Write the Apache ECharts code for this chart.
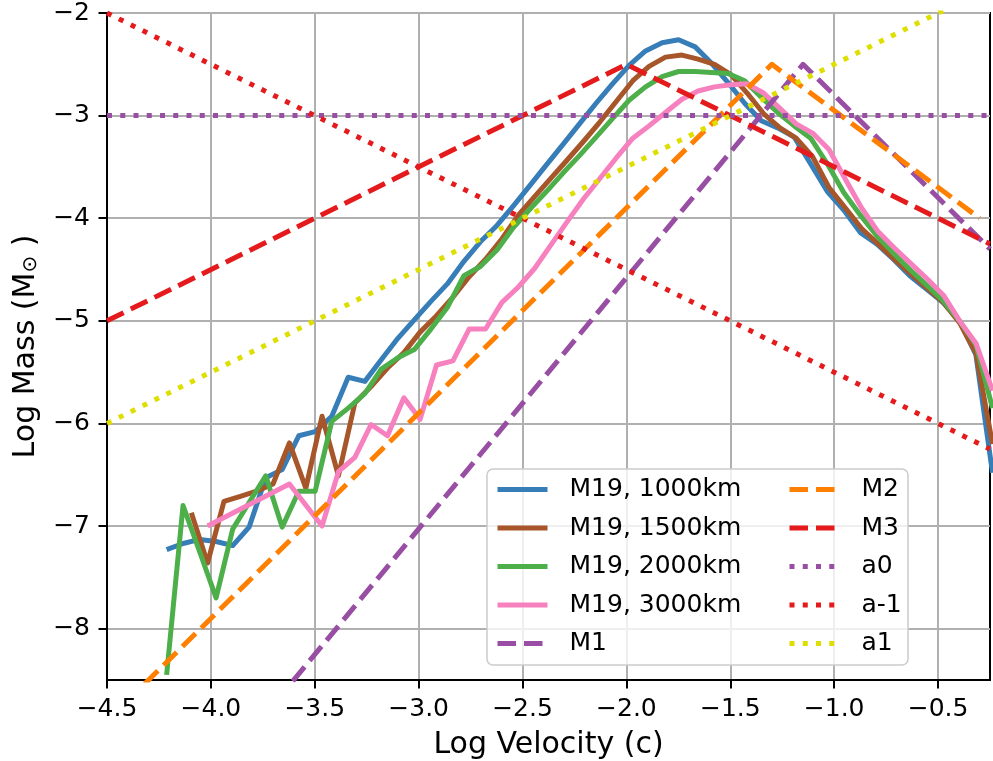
<!DOCTYPE html>
<html><head><meta charset="utf-8">
<script src="https://cdn.jsdelivr.net/npm/echarts@6/dist/echarts.min.js"></script>
<style>html,body{margin:0;padding:0;background:#fff}#c{width:993px;height:761px}</style>
</head><body><div id="c"></div>
<script>
// Log velocity grids of the M19 simulation curves
const xA = [-4.213,-4.134,-4.054,-3.975,-3.895,-3.816,-3.736,-3.657,-3.577,-3.498,-3.418,-3.339,-3.259,-3.180,-3.100,-3.021,-2.941,-2.862,-2.782,-2.703,-2.623,-2.544,-2.464,-2.385,-2.305,-2.226,-2.146,-2.067,-1.987,-1.908,-1.828,-1.749,-1.669,-1.590,-1.510,-1.431,-1.351,-1.272,-1.192,-1.113,-1.033,-0.954,-0.874,-0.795,-0.715,-0.636,-0.556,-0.477,-0.397,-0.318,-0.238];
const xB = [-4.173,-4.094,-4.016,-3.937,-3.858,-3.780,-3.701,-3.622,-3.543,-3.465,-3.386,-3.307,-3.229,-3.150,-3.071,-2.993,-2.914,-2.835,-2.757,-2.678,-2.599,-2.520,-2.442,-2.363,-2.284,-2.206,-2.127,-2.048,-1.969,-1.891,-1.812,-1.733,-1.655,-1.576,-1.497,-1.419,-1.340,-1.261,-1.183,-1.104,-1.025,-0.946,-0.868,-0.789,-0.710,-0.632,-0.553,-0.474,-0.396,-0.317,-0.238];

// Log mass values (on xA)
const m19_1000 = [-7.23,-7.17,-7.13,-7.15,-7.19,-7.01,-6.53,-6.45,-6.12,-6.08,-5.93,-5.55,-5.59,-5.38,-5.17,-4.99,-4.81,-4.64,-4.42,-4.23,-4.07,-3.88,-3.68,-3.48,-3.28,-3.08,-2.88,-2.69,-2.51,-2.37,-2.29,-2.26,-2.33,-2.49,-2.68,-2.88,-3.05,-3.12,-3.21,-3.47,-3.74,-3.92,-4.14,-4.25,-4.40,-4.56,-4.69,-4.82,-5.00,-5.33,-6.48];
const m19_2000 = [-8.45,-6.80,-7.25,-7.70,-7.03,-6.77,-6.51,-7.01,-6.66,-6.66,-5.98,-5.85,-5.71,-5.47,-5.36,-5.28,-5.08,-4.87,-4.56,-4.47,-4.31,-4.09,-3.91,-3.74,-3.56,-3.39,-3.21,-3.03,-2.85,-2.72,-2.62,-2.57,-2.57,-2.58,-2.59,-2.66,-2.82,-2.97,-3.10,-3.22,-3.47,-3.75,-3.97,-4.17,-4.34,-4.50,-4.65,-4.80,-5.00,-5.23,-5.85];
// Log mass values (on xB)
const m19_1500 = [null,-6.87,-7.36,-6.76,-6.71,-6.66,-6.59,-6.19,-6.63,-5.93,-6.51,-5.80,-5.64,-5.46,-5.31,-5.11,-4.95,-4.77,-4.57,-4.40,-4.20,-3.97,-3.79,-3.61,-3.43,-3.25,-3.06,-2.86,-2.66,-2.52,-2.43,-2.41,-2.45,-2.50,-2.60,-2.78,-2.98,-3.12,-3.22,-3.40,-3.70,-3.90,-4.10,-4.25,-4.40,-4.54,-4.68,-4.82,-5.02,-5.32,-6.20];
const m19_3000 = [null,null,-7.00,null,null,null,null,-6.59,null,-7.00,-6.47,-6.33,-6.01,-6.12,-5.75,-5.96,-5.43,-5.39,-5.08,-5.08,-4.82,-4.67,-4.49,-4.26,-4.03,-3.81,-3.61,-3.41,-3.22,-3.10,-2.97,-2.84,-2.76,-2.72,-2.70,-2.69,-2.78,-2.93,-3.08,-3.17,-3.33,-3.62,-3.90,-4.13,-4.29,-4.44,-4.59,-4.75,-5.00,-5.22,-5.68];

// Model lines
const m1X = [-4.5,-1.15,-0.25],  m1Y = [-10.7,-2.5,-4.3];
const m2X = [-4.5,-1.3,-0.3],    m2Y = [-8.9,-2.5,-4.0];
const m3X = [-4.5,-2.0,-0.25],   m3Y = [-5.0,-2.5,-4.25];
const a0X = [-4.5,-0.25],        a0Y = [-3.0,-3.0];
const am1X = [-4.5,-0.25],       am1Y = [-2.0,-6.25];
const a1X = [-4.5,-0.25],        a1Y = [-6.0,-1.75];

const xTicks = [-4.5,-4.0,-3.5,-3.0,-2.5,-2.0,-1.5,-1.0,-0.5];
const yTicks = [-8,-7,-6,-5,-4,-3,-2];

function pairs(xs, ys){ const out=[]; for(let i=0;i<xs.length;i++){ if(ys[i]!==null && ys[i]!==undefined) out.push([xs[i], ys[i]]); } return out; }
const FONT = 'DejaVu Sans';
const LW = 5;
const DASH = [18.5, 8];
const DOT = [5, 8.25];
function ser(name, data, color, type, z){
  return { name, type:'line', data, symbol:'none', showSymbol:false, clip:true, z,
    lineStyle:{ color, width:LW, type, cap:'butt', join:'round' }, itemStyle:{ color },
    emphasis:{ disabled:true }, animation:false };
}
const legendText = { fontFamily:FONT, fontSize:25, color:'#000', padding:[0,0,0,17] };
const legendCommon = { orient:'vertical', top:477, itemWidth:50, itemHeight:14, itemGap:13.5, padding:0,
  selectedMode:false, textStyle:legendText, itemStyle:{ opacity:0 }, lineStyle:{ width:LW } };

const chart = echarts.init(document.getElementById('c'), null, {renderer:'canvas'});
chart.setOption({
  animation:false,
  backgroundColor:'#fff',
  grid:{ left:107, right:3, top:13, bottom:81, containLabel:false, outerBoundsMode:'none',
    show:true, borderColor:'#000', borderWidth:2, backgroundColor:'transparent' },
  xAxis:{ type:'value', min:-4.5, max:-0.25,
    axisLine:{ show:true, onZero:false, lineStyle:{ color:'#000', width:2 } },
    axisTick:{ show:true, length:8.5, customValues:xTicks, lineStyle:{ color:'#000', width:2 } },
    axisLabel:{ customValues:xTicks, margin:17, fontFamily:FONT, fontSize:25, color:'#000',
      formatter: v => v.toFixed(1).replace('-', '\u2212') },
    splitLine:{ show:true, lineStyle:{ color:'#b0b0b0', width:2 } },
    name:'Log Velocity (c)', nameLocation:'middle', nameGap:50,
    nameTextStyle:{ fontFamily:FONT, fontSize:30, color:'#000' } },
  yAxis:{ type:'value', min:-8.5, max:-2,
    axisLine:{ show:true, onZero:false, lineStyle:{ color:'#000', width:2 } },
    axisTick:{ show:true, length:8.5, customValues:yTicks, lineStyle:{ color:'#000', width:2 } },
    axisLabel:{ customValues:yTicks, margin:17, fontFamily:FONT, fontSize:25, color:'#000',
      formatter: v => String(Math.round(v)).replace('-', '\u2212') },
    splitLine:{ show:true, lineStyle:{ color:'#b0b0b0', width:2 } },
    name:'Log Mass (M{sub|\u2299} )', nameLocation:'middle', nameGap:66,
    nameTextStyle:{ fontFamily:FONT, fontSize:30, color:'#000',
      rich:{ sub:{ fontFamily:FONT, fontSize:20, color:'#000', verticalAlign:'bottom', padding:[10,0,0,0] } } } },
  legend:[
    Object.assign({ data:['M19, 1000km','M19, 1500km','M19, 2000km','M19, 3000km','M1'], left:495 }, legendCommon),
    Object.assign({ data:['M2','M3','a0','a-1','a1'], left:787 }, legendCommon)
  ],
  graphic:[{ type:'rect', z:3, silent:true,
    shape:{ x:487, y:469, width:421, height:196, r:6 },
    style:{ fill:'rgba(255,255,255,0.8)', stroke:'#cccccc', lineWidth:1.5 } }],
  series:[
    ser('M19, 1000km', pairs(xA, m19_1000), '#377eb8', 'solid', 2),
    ser('M19, 1500km', pairs(xB, m19_1500), '#a65628', 'solid', 2),
    ser('M19, 2000km', pairs(xA, m19_2000), '#4daf4a', 'solid', 2),
    ser('M19, 3000km', pairs(xB, m19_3000), '#f781bf', 'solid', 2),
    ser('M1', pairs(m1X, m1Y), '#984ea3', DASH, 2),
    ser('M2', pairs(m2X, m2Y), '#ff7f00', DASH, 2),
    ser('M3', pairs(m3X, m3Y), '#e41a1c', DASH, 2),
    ser('a0', pairs(a0X, a0Y), '#984ea3', DOT, 2),
    ser('a-1', pairs(am1X, am1Y), '#e41a1c', DOT, 2),
    ser('a1', pairs(a1X, a1Y), '#dede00', DOT, 2)
  ]
});
</script>
</body></html>
